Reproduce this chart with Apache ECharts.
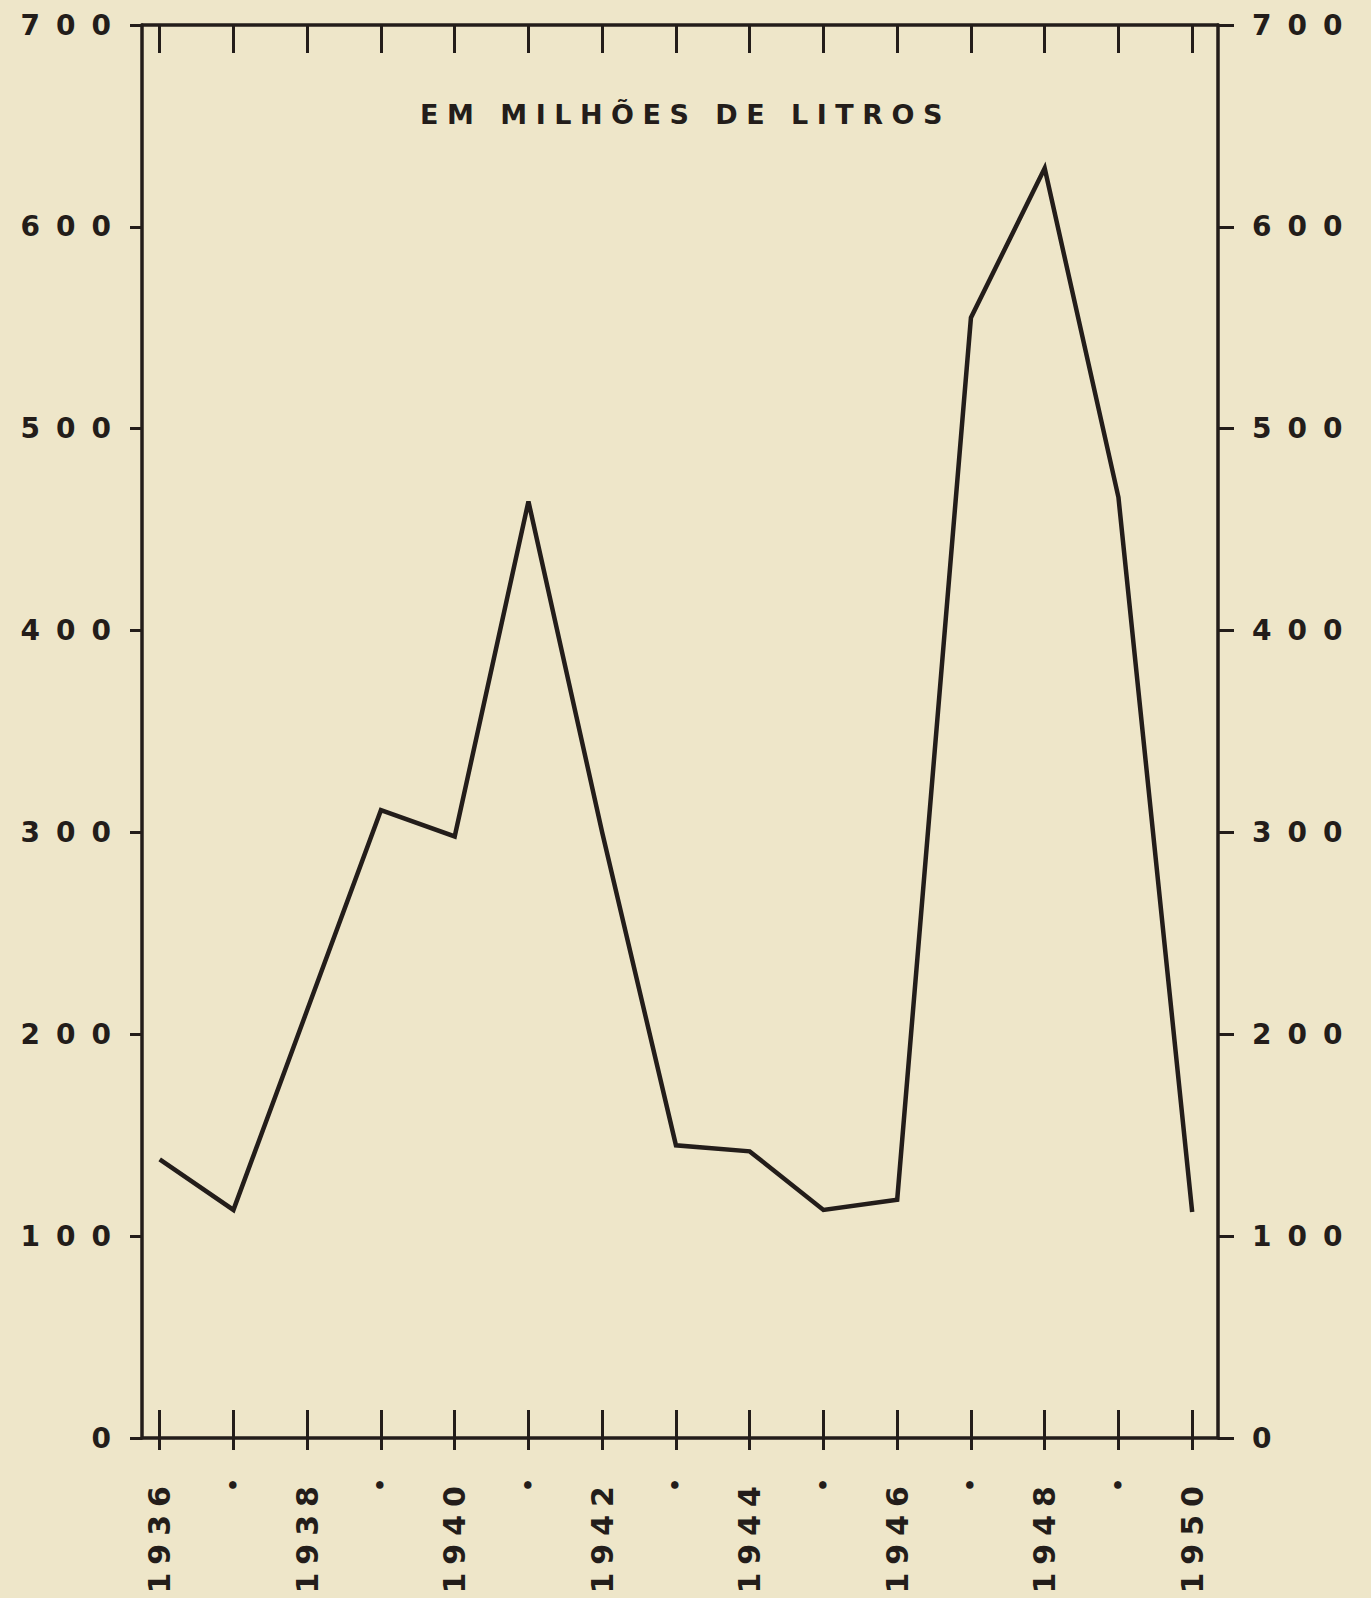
<!DOCTYPE html>
<html>
<head>
<meta charset="utf-8">
<script src="https://cdn.jsdelivr.net/npm/echarts@6/dist/echarts.min.js"></script>
<style>
html, body { margin: 0; padding: 0; background: #eee6c9; }
#chart { width: 1371px; height: 1598px; }
#chart text[style*="28px"] { letter-spacing: 16px; }
#chart text[style*="30px"] { letter-spacing: 8px; }
#chart text[style*="27px"] { letter-spacing: 8.5px; }
</style>
</head>
<body>
<div id="chart"></div>
<script>
// ---- data ----
const years = [1936, 1937, 1938, 1939, 1940, 1941, 1942, 1943, 1944, 1945, 1946, 1947, 1948, 1949, 1950];
const values = [138, 113, 212, 311, 298, 464, 300, 145, 142, 113, 118, 555, 629, 466, 112];
const yearLabels = ['1936', '•', '1938', '•', '1940', '•', '1942', '•', '1944', '•', '1946', '•', '1948', '•', '1950'];
const yMin = 0;
const yMax = 700;
const yStep = 100;
const titleText = 'EM MILHÕES DE LITROS';

// ---- styles ----
const INK = '#231d1a';
const FONT = 'DejaVu Sans';
const xMin = 1935.76;
const xMax = 1950.35;

const chart = echarts.init(document.getElementById('chart'), null, { renderer: 'svg' });

const yAxisBase = {
  type: 'value',
  min: yMin,
  max: yMax,
  interval: yStep,
  splitLine: { show: false },
  axisLine: { show: true, lineStyle: { color: INK, width: 3.5 } },
  axisTick: { show: true, inside: false, lineStyle: { color: INK, width: 3 } },
  axisLabel: { color: INK, fontFamily: FONT, fontWeight: 'bold', fontSize: 28 }
};

const xAxisBase = {
  type: 'value',
  min: xMin,
  max: xMax,
  splitLine: { show: false }
};

chart.setOption({
  backgroundColor: '#eee6c9',
  animation: false,
  title: {
    text: titleText,
    left: 'center',
    top: 96,
    textStyle: { color: INK, fontFamily: FONT, fontWeight: 'bold', fontSize: 27 }
  },
  grid: { left: 142, right: 153, top: 25, bottom: 160, outerBoundsMode: 'none' },
  xAxis: [
    Object.assign({}, xAxisBase, {
      position: 'bottom',
      axisLine: { show: true, onZero: false, lineStyle: { color: INK, width: 3.5 } },
      axisTick: { show: true, inside: false, length: 12, customValues: years, lineStyle: { color: INK, width: 3 } },
      axisLabel: {
        show: true,
        customValues: years,
        rotate: 90,
        margin: 40,
        formatter: function (v) {
          const i = years.indexOf(Math.round(v));
          const s = yearLabels[i];
          return s === '•' ? '{d|' + s + '}' : '{y|' + s + '}';
        },
        rich: {
          y: { align: 'right', color: INK, fontFamily: FONT, fontWeight: 'bold', fontSize: 30 },
          d: { align: 'right', color: INK, fontFamily: FONT, fontWeight: 'bold', fontSize: 22 }
        }
      }
    }),
    Object.assign({}, xAxisBase, {
      position: 'bottom',
      axisLine: { show: false, onZero: false },
      axisTick: { show: true, inside: true, length: 28, customValues: years, lineStyle: { color: INK, width: 3 } },
      axisLabel: { show: false }
    }),
    Object.assign({}, xAxisBase, {
      position: 'top',
      axisLine: { show: true, onZero: false, lineStyle: { color: INK, width: 3.5 } },
      axisTick: { show: true, inside: true, length: 28, customValues: years, lineStyle: { color: INK, width: 3 } },
      axisLabel: { show: false }
    })
  ],
  yAxis: [
    Object.assign({}, yAxisBase, {
      position: 'left',
      axisTick: Object.assign({}, yAxisBase.axisTick, { length: 12 }),
      axisLabel: Object.assign({}, yAxisBase.axisLabel, { margin: 15 })
    }),
    Object.assign({}, yAxisBase, {
      position: 'right',
      axisTick: Object.assign({}, yAxisBase.axisTick, { length: 16 }),
      axisLabel: Object.assign({}, yAxisBase.axisLabel, { margin: 34 })
    })
  ],
  series: [{
    type: 'line',
    xAxisIndex: 0,
    yAxisIndex: 0,
    data: years.map((y, i) => [y, values[i]]),
    symbol: 'none',
    lineStyle: { color: INK, width: 4.5, join: 'miter' },
    silent: true
  }]
});
</script>
</body>
</html>
